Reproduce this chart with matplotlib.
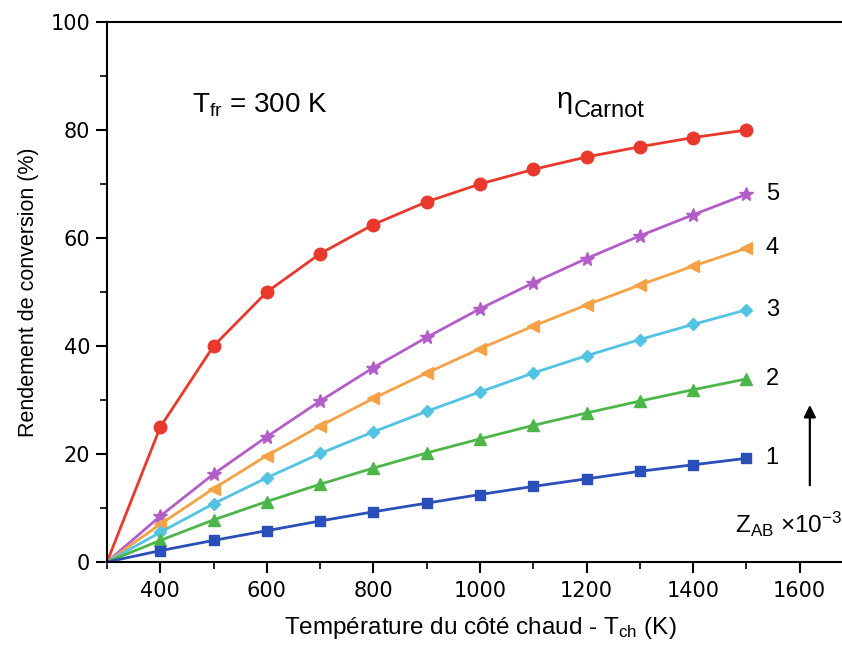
import numpy as np
import matplotlib
matplotlib.use("Agg")
import matplotlib.pyplot as plt
from matplotlib.ticker import MultipleLocator

plt.rcParams['font.family'] = ['Liberation Sans', 'DejaVu Sans']
plt.rcParams['mathtext.fontset'] = 'custom'
plt.rcParams['mathtext.rm'] = 'Liberation Sans'
plt.rcParams['mathtext.it'] = 'Liberation Sans:italic'

# temperatures of the hot side (K)
T_ch = [300, 400, 500, 600, 700, 800, 900, 1000, 1100, 1200, 1300, 1400, 1500]

# conversion efficiency (%)
eta_carnot = [0, 25.0, 40.0, 50.0, 57.1, 62.5, 66.7, 70.0, 72.7, 75.0, 76.9, 78.6, 80.0]
eta_z5 = [0, 8.5, 16.3, 23.2, 29.8, 36.0, 41.6, 46.9, 51.7, 56.2, 60.4, 64.3, 68.1]
eta_z4 = [0, 7.0, 13.6, 19.7, 25.2, 30.3, 35.0, 39.5, 43.7, 47.6, 51.3, 54.8, 58.1]
eta_z3 = [0, 5.5, 10.8, 15.6, 20.1, 24.1, 27.9, 31.5, 35.0, 38.2, 41.2, 44.0, 46.7]
eta_z2 = [0, 4.0, 7.8, 11.2, 14.4, 17.4, 20.2, 22.8, 25.3, 27.6, 29.8, 31.9, 33.9]
eta_z1 = [0, 2.1, 4.0, 5.8, 7.6, 9.3, 10.9, 12.5, 14.0, 15.4, 16.8, 18.0, 19.2]

series = [
    (eta_carnot, '#e8392c', 'o', 9),
    (eta_z5, '#b35ec8', '*', 10),
    (eta_z4, '#f5a244', '<', 8),
    (eta_z3, '#52c3e2', 'D', 6.5),
    (eta_z2, '#4cb748', '^', 8.5),
    (eta_z1, '#2b4fb8', 's', 6.5),
]
labels = ['5', '4', '3', '2', '1']

fig = plt.figure(figsize=(8.42, 6.55), dpi=100)
ax = fig.add_axes([107/842, 93/655, 746/842, 540/655])

for y, c, m, ms in series:
    ax.plot(T_ch, y, color=c, lw=2, marker=m, ms=ms, markevery=range(1, len(T_ch)),
            clip_on=False)

# Z labels next to the last point of each curve
for y, lab in zip([eta_z5, eta_z4, eta_z3, eta_z2, eta_z1], labels):
    ax.text(1536, y[-1], lab, fontsize=17, va='center', ha='left')

ax.text(1143, 84.1, 'η', fontsize=21, ha='left', va='baseline')
ax.text(1176, 82.4, 'Carnot', fontsize=17, ha='left', va='baseline')
ax.text(460, 84.5, r'T$_{\mathrm{fr}}$ = 300 K', fontsize=20, ha='left', va='center')
ax.annotate('', xy=(1619, 29.6), xytext=(1619, 13.7),
            arrowprops=dict(arrowstyle='-|>', color='black', lw=1.6, mutation_scale=18))
ax.text(1478, 7.0, r'Z$_{\mathrm{AB}}$ ×10$^{\mathrm{-3}}$', fontsize=17.5, ha='left', va='center')

ax.set_xlim(300, 1700)
ax.set_ylim(0, 100)
ax.xaxis.set_minor_locator(MultipleLocator(100))
ax.yaxis.set_major_locator(MultipleLocator(20))
ax.yaxis.set_minor_locator(MultipleLocator(10))
ax.set_xticks([400, 600, 800, 1000, 1200, 1400, 1600])
ax.tick_params(which='major', direction='out', length=8, width=1.5)
ax.tick_params(which='minor', direction='out', length=5, width=1.2)
ax.tick_params(axis='x', pad=6)
ax.tick_params(axis='y', pad=4)
ax.tick_params(top=False, right=False)
for lab in ax.get_xticklabels() + ax.get_yticklabels():
    lab.set_fontfamily('DejaVu Sans')
    lab.set_fontsize(15)
for s in ax.spines.values():
    s.set_linewidth(1.5)

ax.set_xlabel(r'Température du côté chaud - T$_{\mathrm{ch}}$ (K)', fontsize=17.5, labelpad=10)
ax.set_ylabel('Rendement de conversion (%)', fontsize=15.5, labelpad=8)

fig.savefig('out.png', dpi=100)
